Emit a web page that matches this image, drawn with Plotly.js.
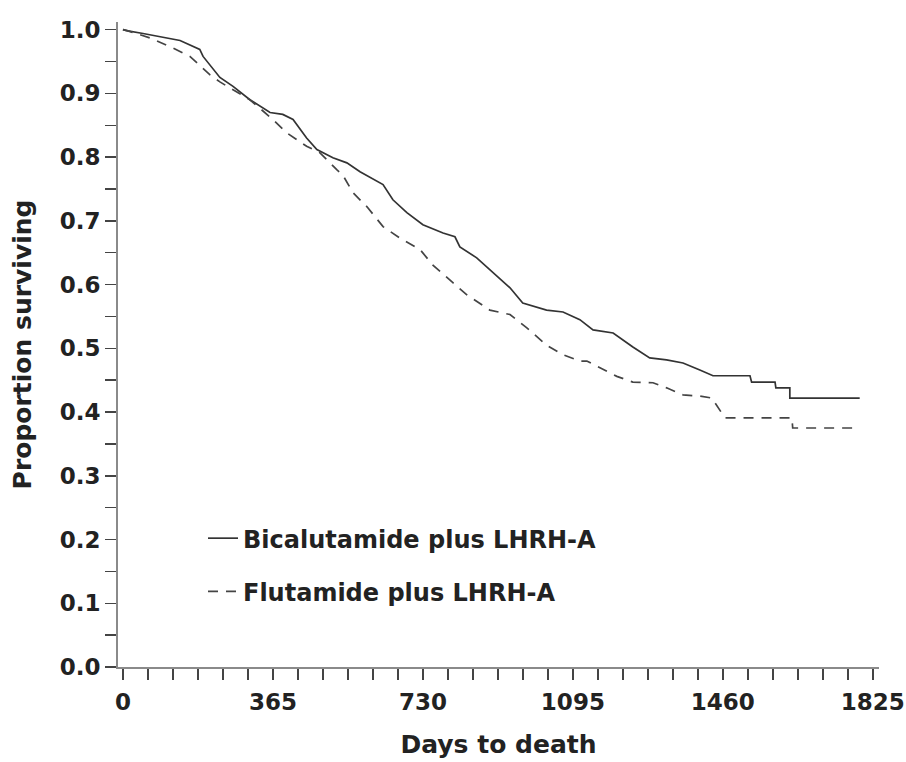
<!DOCTYPE html>
<html>
<head>
<meta charset="utf-8">
<script src="https://cdn.plot.ly/plotly-3.0.1.min.js"></script>
<style>html,body{margin:0;padding:0;background:#fff;}#chart{width:906px;height:762px;}</style>
</head>
<body>
<div id="chart"></div>
<script>
// Bicalutamide plus LHRH-A (solid)
const bicaDays = [0, 12, 49, 90, 139, 187, 195, 236, 268, 309, 358, 389, 414, 447, 472, 511, 545, 577, 633, 657, 691, 730, 779, 808, 820, 861, 888, 942, 973, 1031, 1071, 1112, 1144, 1193, 1241, 1282, 1323, 1363, 1404, 1436, 1526, 1530, 1587, 1589, 1623, 1623, 1793];
const bicaSurv = [1.0, 0.998, 0.994, 0.989, 0.983, 0.969, 0.958, 0.925, 0.911, 0.890, 0.870, 0.867, 0.859, 0.830, 0.812, 0.799, 0.791, 0.777, 0.757, 0.733, 0.713, 0.694, 0.681, 0.675, 0.659, 0.642, 0.626, 0.595, 0.571, 0.560, 0.557, 0.545, 0.529, 0.524, 0.502, 0.485, 0.482, 0.477, 0.466, 0.457, 0.457, 0.447, 0.447, 0.438, 0.438, 0.422, 0.422];

// Flutamide plus LHRH-A (dashed)
const fluDays = [0, 12, 66, 122, 163, 212, 236, 268, 309, 365, 399, 447, 479, 521, 535, 560, 594, 633, 674, 723, 755, 803, 837, 893, 942, 983, 1031, 1071, 1112, 1129, 1161, 1202, 1241, 1290, 1323, 1363, 1404, 1433, 1465, 1628, 1630, 1788];
const fluSurv = [1.0, 0.998, 0.987, 0.971, 0.958, 0.929, 0.918, 0.906, 0.890, 0.859, 0.838, 0.817, 0.807, 0.780, 0.772, 0.744, 0.722, 0.691, 0.673, 0.655, 0.630, 0.603, 0.584, 0.560, 0.553, 0.532, 0.505, 0.490, 0.480, 0.480, 0.469, 0.456, 0.447, 0.446, 0.438, 0.427, 0.425, 0.422, 0.391, 0.391, 0.375, 0.375];

const seriesNames = ['Bicalutamide plus LHRH-A', 'Flutamide plus LHRH-A'];
const xTickVals = [0, 365, 730, 1095, 1460, 1825];
const yTickVals = [0, 0.1, 0.2, 0.3, 0.4, 0.5, 0.6, 0.7, 0.8, 0.9, 1.0];

const font = 'DejaVu Sans, Liberation Sans, Arial, sans-serif';

const traces = [
  {x: bicaDays, y: bicaSurv, name: seriesNames[0], mode: 'lines', legendgroup: 'a',
   line: {color: '#333333', width: 1.7, dash: 'solid'}},
  {x: fluDays, y: fluSurv, name: seriesNames[1], mode: 'lines', legendgroup: 'b',
   line: {color: '#444444', width: 1.7, dash: '10px,8px'}}
];

const layout = {
  width: 906, height: 762,
  margin: {l: 118, r: 27, t: 22, b: 95},
  paper_bgcolor: '#ffffff', plot_bgcolor: '#ffffff',
  font: {family: font, color: '#222222'},
  showlegend: true,
  legend: {x: 0.1117, xanchor: 'left', y: 0.234, yanchor: 'top',
           font: {family: font, size: 24, color: '#222222', weight: 'bold'},
           bgcolor: 'rgba(0,0,0,0)', tracegroupgap: 19},
  xaxis: {
    range: [-12, 1840], tickmode: 'array', tickvals: xTickVals, ticktext: xTickVals.map(String),
    showgrid: false, zeroline: false, showline: true, linecolor: '#8a8a8a', linewidth: 2,
    ticks: 'outside', ticklen: 11, tickwidth: 1.5, tickcolor: '#444', ticklabelstandoff: 2,
    minor: {dtick: 365/6, tick0: 0, ticks: 'outside', ticklen: 11, tickwidth: 1.5, tickcolor: '#444', showgrid: false},
    tickfont: {family: font, size: 23, color: '#222', weight: 'bold'},
    title: {text: 'Days to death', font: {family: font, size: 25, color: '#222', weight: 'bold'}, standoff: 22}
  },
  yaxis: {
    range: [0, 1.012], tickmode: 'array', tickvals: yTickVals, ticktext: yTickVals.map(v => v.toFixed(1)),
    showgrid: false, zeroline: false, showline: true, linecolor: '#8a8a8a', linewidth: 2,
    ticks: 'outside', ticklen: 11, tickwidth: 1.5, tickcolor: '#444',
    minor: {dtick: 0.05, tick0: 0, ticks: 'outside', ticklen: 11, tickwidth: 1.5, tickcolor: '#444', showgrid: false},
    tickfont: {family: font, size: 23, color: '#222', weight: 'bold'},
    title: {text: 'Proportion surviving', font: {family: font, size: 25, color: '#222', weight: 'bold'}, standoff: 21}
  }
};

Plotly.newPlot('chart', traces, layout, {displayModeBar: false, staticPlot: true});
</script>
</body>
</html>
